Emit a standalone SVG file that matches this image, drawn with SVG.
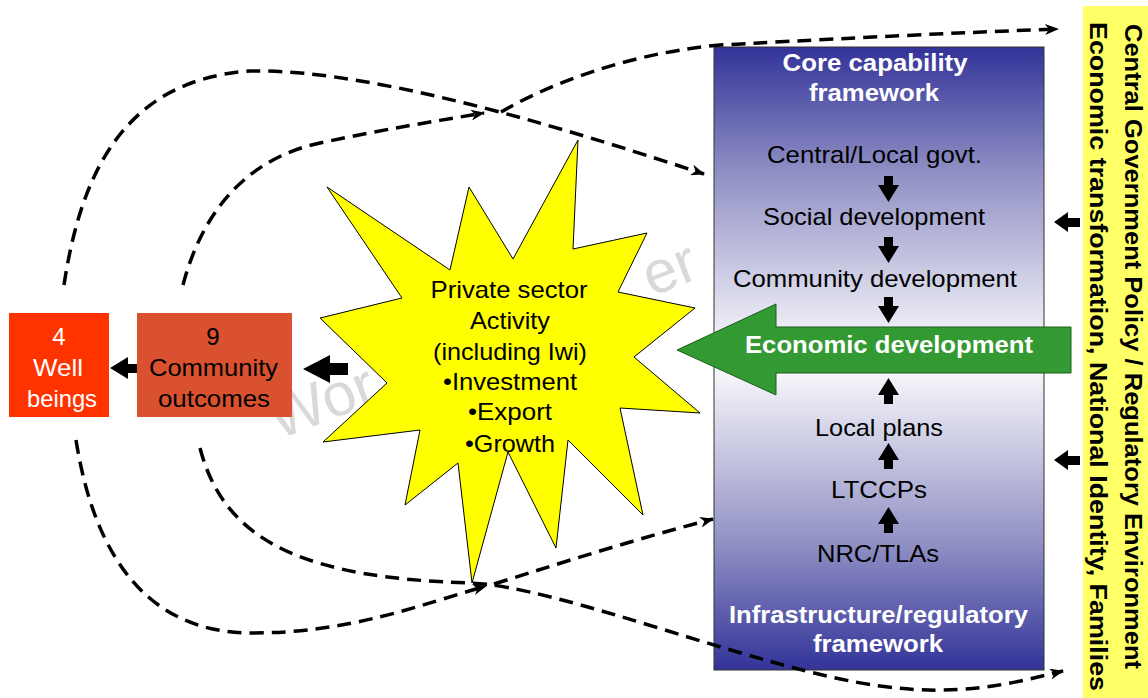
<svg xmlns="http://www.w3.org/2000/svg" width="1148" height="698" viewBox="0 0 1148 698">
<defs>
<linearGradient id="blueGrad" x1="0" y1="0" x2="0" y2="1">
<stop offset="0" stop-color="#333399"/>
<stop offset="0.2" stop-color="#8f8fc4"/>
<stop offset="0.5" stop-color="#ffffff"/>
<stop offset="0.8" stop-color="#8f8fc4"/>
<stop offset="1" stop-color="#333399"/>
</linearGradient>
<marker id="ah" viewBox="0 0 14 11" refX="13" refY="5.5" markerWidth="14" markerHeight="11" markerUnits="userSpaceOnUse" orient="auto">
<path d="M0,0 L14,5.5 L0,11 L4,5.5 z" fill="#000"/>
</marker>
<path id="dn" d="M-4.5,0 H4.5 V9 H10.5 L0,26 L-10.5,9 H-4.5 Z" fill="#000"/>
</defs>
<style>
.t{font-family:"Liberation Sans",Arial,sans-serif;font-size:24px;text-anchor:middle}
.b{font-weight:bold}
.w{fill:#fff}
.k{fill:#000}
.dash{fill:none;stroke:#000;stroke-width:3.5;stroke-dasharray:14 8}
.blk{fill:#000}
.wm{font-family:"Liberation Sans",Arial,sans-serif;font-size:60px;fill:#d9d9d9}
</style>

<g id="watermark" transform="translate(278,440) rotate(-21)">
<text class="wm" x="0" y="0">Wor</text>
<text class="wm" x="400" y="0">er</text>
</g>

<g id="private-sector">
<polygon points="578,140 573,249 647,233 618,292 695,308 634,357 700,413 620,408 643,515 568,440 556,548 508,452 472,583 458,463 405,505 420,430 323,442 387,383 320,318 402,298 327,187 450,270 469,187 513,259" fill="#ffff00" stroke="#000" stroke-width="1"/>
<text class="t k" x="509" y="298" textLength="157" lengthAdjust="spacingAndGlyphs">Private sector</text>
<text class="t k" x="510" y="329" textLength="80" lengthAdjust="spacingAndGlyphs">Activity</text>
<text class="t k" x="510" y="360" textLength="154" lengthAdjust="spacingAndGlyphs">(including Iwi)</text>
<text class="t k" x="510" y="390" textLength="134" lengthAdjust="spacingAndGlyphs">•Investment</text>
<text class="t k" x="510" y="420" textLength="84" lengthAdjust="spacingAndGlyphs">•Export</text>
<text class="t k" x="510" y="452" textLength="90" lengthAdjust="spacingAndGlyphs">•Growth</text>
</g>

<g id="well-beings">
<rect x="9" y="313" width="100" height="104" fill="#ff3300"/>
<text class="t w" x="59" y="345">4</text>
<text class="t w" x="58" y="376" textLength="50" lengthAdjust="spacingAndGlyphs">Well</text>
<text class="t w" x="62" y="407" textLength="70" lengthAdjust="spacingAndGlyphs">beings</text>
</g>

<g id="community-outcomes">
<rect x="137" y="313" width="155" height="104" fill="#d9512f"/>
<text class="t k" x="213" y="345">9</text>
<text class="t k" x="213.5" y="376" textLength="129" lengthAdjust="spacingAndGlyphs">Community</text>
<text class="t k" x="214" y="407" textLength="112" lengthAdjust="spacingAndGlyphs">outcomes</text>
</g>

<g id="framework-box">
<rect x="714" y="47" width="330" height="623" fill="url(#blueGrad)" stroke="#333" stroke-width="1"/>
<text class="t b w" x="875" y="71" textLength="185" lengthAdjust="spacingAndGlyphs">Core capability</text>
<text class="t b w" x="874" y="101" textLength="130" lengthAdjust="spacingAndGlyphs">framework</text>
<text class="t k" x="874.5" y="163" textLength="215" lengthAdjust="spacingAndGlyphs">Central/Local govt.</text>
<text class="t k" x="874" y="225" textLength="222" lengthAdjust="spacingAndGlyphs">Social development</text>
<text class="t k" x="875" y="287" textLength="284" lengthAdjust="spacingAndGlyphs">Community development</text>
<text class="t k" x="879" y="436" textLength="128" lengthAdjust="spacingAndGlyphs">Local plans</text>
<text class="t k" x="879" y="498" textLength="96" lengthAdjust="spacingAndGlyphs">LTCCPs</text>
<text class="t k" x="878" y="562" textLength="122" lengthAdjust="spacingAndGlyphs">NRC/TLAs</text>
<text class="t b w" x="878.5" y="623" textLength="299" lengthAdjust="spacingAndGlyphs">Infrastructure/regulatory</text>
<text class="t b w" x="878" y="652" textLength="130" lengthAdjust="spacingAndGlyphs">framework</text>
</g>

<g id="economic-development">
<polygon points="677,350 776,304 776,327 1071,327 1071,373 776,373 776,395" fill="#339933" stroke="#1e5e1e" stroke-width="1"/>
<text class="t b w" x="889" y="353" textLength="288" lengthAdjust="spacingAndGlyphs">Economic development</text>
</g>

<g id="central-government">
<rect x="1083" y="6" width="65" height="692" fill="#ffff66"/>
<text class="t b k" style="text-anchor:start" transform="translate(1125,24) rotate(90)" textLength="645" lengthAdjust="spacingAndGlyphs">Central Government Policy / Regulatory Environment</text>
<text class="t b k" style="text-anchor:start" transform="translate(1090,22) rotate(90)" textLength="669" lengthAdjust="spacingAndGlyphs">Economic transformation, National Identity, Families</text>
</g>

<g id="connectors">
<polygon class="blk" points="110,368 128,357 128,364 137,364 137,373 128,373 128,379"/>
<polygon class="blk" points="303,369 330,355 330,363 348,363 348,375 330,375 330,383"/>
<polygon class="blk" points="1054,222 1068,212 1068,218 1080,218 1080,227 1068,227 1068,232"/>
<polygon class="blk" points="1054,460 1068,450 1068,456 1080,456 1080,465 1068,465 1068,470"/>
<use href="#dn" transform="translate(888.5,176)"/>
<use href="#dn" transform="translate(888.5,237)"/>
<use href="#dn" transform="translate(888.5,297)"/>
<use href="#dn" transform="translate(888.5,404) scale(1,-1)"/>
<use href="#dn" transform="translate(888.5,469) scale(1,-1)"/>
<use href="#dn" transform="translate(888.5,533) scale(1,-1)"/>
<path class="dash" d="M64,285 C80,180 120,80 250,71 C380,68 600,140 704,174" marker-end="url(#ah)"/>
<path class="dash" d="M183,285 C200,220 240,160 320,143 C380,130 430,122 484,113" marker-end="url(#ah)"/>
<path class="dash" d="M501,112 C530,95 610,55 720,45 C850,38 950,33 1058,29" marker-end="url(#ah)"/>
<path class="dash" d="M76,440 C95,560 150,633 252,633 C350,633 420,605 486,586" marker-end="url(#ah)"/>
<path class="dash" d="M494,584 C570,560 640,538 713,519" marker-end="url(#ah)"/>
<path class="dash" d="M200,448 C225,545 310,578 470,583 C560,586 760,670 880,686 C960,697 1010,684 1063,671" marker-end="url(#ah)"/>
</g>
</svg>
